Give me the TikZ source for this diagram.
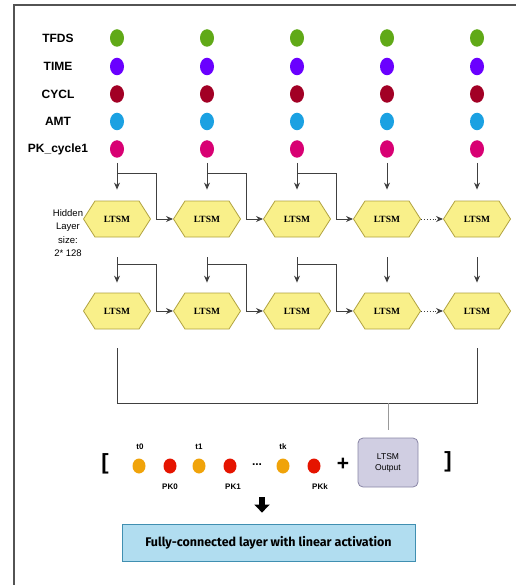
\documentclass[tikz,border=0pt]{standalone}
\usepackage{fontspec}
\setmainfont{Liberation Sans}
\newfontfamily\serifb{Liberation Serif}
\newfontfamily\fira{Fira Sans}
\usetikzlibrary{shapes.symbols,shapes.geometric,arrows.meta}
\definecolor{cgreen}{HTML}{60A917}
\definecolor{cviolet}{HTML}{6A00FF}
\definecolor{cdred}{HTML}{A20025}
\definecolor{ccyan}{HTML}{1BA1E2}
\definecolor{cmag}{HTML}{D80073}
\definecolor{corange}{HTML}{F0A30A}
\definecolor{cred}{HTML}{E51400}
\definecolor{hexfill}{HTML}{F9F08A}
\definecolor{hexdraw}{HTML}{B0A240}
\definecolor{outfill}{HTML}{D0CEE2}
\definecolor{outdraw}{HTML}{56517E}
\definecolor{fcfill}{HTML}{B1DDF0}
\definecolor{fcdraw}{HTML}{10739E}
\definecolor{linec}{HTML}{404040}
\begin{document}
\begin{tikzpicture}[x=1pt,y=-1pt,
  cdot/.style={ellipse, minimum width=14pt, minimum height=17.5pt, inner sep=0pt, fill=#1},
  sdot/.style={ellipse, minimum width=13pt, minimum height=15pt, inner sep=0pt, fill=#1},
  lbl/.style={font=\bfseries\fontsize{12}{14}\selectfont},
  hexa/.style={signal, signal to=east and west, signal pointer angle=115, minimum width=67pt, minimum height=36pt, inner sep=0pt, fill=hexfill, draw=hexdraw, line width=0.8pt, font=\serifb\bfseries\fontsize{9.5}{11}\selectfont},
  conn/.style={draw=linec, line width=0.9pt},
  arr/.style={conn, -{Stealth[length=7pt,width=6pt]}},
  small/.style={font=\bfseries\fontsize{8}{10}\selectfont, inner sep=1pt},
  outbox/.style={rectangle, rounded corners=5pt, fill=outfill, draw=outdraw!70, line width=0.8pt, minimum width=60pt, minimum height=49pt, align=center, font=\fontsize{8.5}{11}\selectfont},
  fcbox/.style={rectangle, fill=fcfill, draw=fcdraw!80, line width=0.8pt, minimum width=293pt, minimum height=37pt, font=\fira\bfseries\fontsize{12.5}{14}\selectfont}
]
\useasboundingbox (0,0) rectangle (516,585);
% frame
\coordinate (ftl) at (14,5);
\draw[draw=linec!90, line width=1.3pt] (14,585) -- (ftl) -- (516,5);

% row labels
\node[lbl] (ltf) at (58,38) {TFDS};
\node[lbl] (lti) at (58,66.5) {TIME};
\node[lbl] (lcy) at (58,94) {CYCL};
\node[lbl] (lam) at (58,121.5) {AMT};
\node[lbl] (lpk) at (58,149) {PK\_cycle1};
\node[align=center, font=\fontsize{9.5}{13.5}\selectfont] (hl) at (68,233) {Hidden\\Layer\\size:\\2* 128};

\foreach \i/\x in {1/117,2/207,3/297,4/387,5/477} {
  \node[cdot=cgreen] (tf\i) at (\x,38) {};
  \node[cdot=cviolet] (ti\i) at (\x,66.5) {};
  \node[cdot=cdred] (cy\i) at (\x,94) {};
  \node[cdot=ccyan] (am\i) at (\x,121.5) {};
  \node[cdot=cmag] (pk\i) at (\x,149) {};
  \node[hexa] (a\i) at (\x,219) {LTSM};
  \node[hexa] (b\i) at (\x,311) {LTSM};
  \draw[arr, shorten <=5pt, shorten >=11pt] (pk\i.south) -- (a\i.north);
  \coordinate (sb\i) at (\x,257);
  \draw[arr, shorten >=10pt] (sb\i) -- (b\i.north);
}
\foreach \i/\j/\x in {1/2/117,2/3/207,3/4/297} {
  \coordinate (ka\i) at (\x,173);
  \draw[arr] (ka\i) -| ([xshift=5pt]a\i.east) -- (a\j.west);
  \coordinate (kb\i) at (\x,264);
  \draw[arr] (kb\i) -| ([xshift=5pt]b\i.east) -- (b\j.west);
}
\draw[arr, dotted, line width=1pt] (a4.east) -- (a5.west);
\draw[arr, dotted, line width=1pt] (b4.east) -- (b5.west);

% joining line
\coordinate (c1) at (117,348);
\coordinate (c5) at (477,348);
\coordinate (jl) at (117,403);
\coordinate (jr) at (477,403);
\draw[conn] (c1) -- (jl) -- (jr) -- (c5);
\node[outbox] (out) at (388,462.5) {LTSM\\Output};
\coordinate (jo) at (388,403);
\draw[draw=gray!80, line width=0.9pt, shorten >=8pt] (jo) -- (out.north);

% bracket row
\node[font=\bfseries\fontsize{22}{24}\selectfont] (lb) at (105,464) {[};
\node[font=\bfseries\fontsize{22}{24}\selectfont] (rb) at (448,462) {]};
\node[sdot=corange] (o0) at (139,466) {};
\node[sdot=cred] (r0) at (170,466) {};
\node[sdot=corange] (o1) at (199,466) {};
\node[sdot=cred] (r1) at (230,466) {};
\node[font=\bfseries\fontsize{12}{14}\selectfont] (ell) at (257,465) {...};
\node[sdot=corange] (ok) at (283,466) {};
\node[sdot=cred] (rk) at (314,466) {};
\node[font=\bfseries\fontsize{21}{22}\selectfont] (plus) at (343,464) {+};
\node[small] (t0) at (140,447) {t0};
\node[small] (t1) at (199,447) {t1};
\node[small] (tk) at (283,447) {tk};
\node[small] (pk0) at (170,487) {PK0};
\node[small] (pk1) at (233,487) {PK1};
\node[small] (pkk) at (320,487) {PKk};

% fully connected
\node[fcbox] (fc) at (268.5,542.5) {Fully-connected layer with linear activation};
\coordinate (ba) at (262,497);
\draw[line width=6pt, -{Triangle[length=8pt,width=15pt]}, shorten >=11pt] (ba) -- (fc.north -| ba);
\end{tikzpicture}
\end{document}
